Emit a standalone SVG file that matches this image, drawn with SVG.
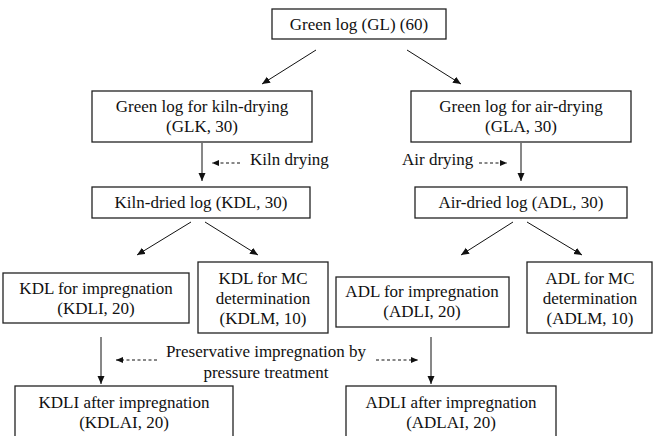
<svg xmlns="http://www.w3.org/2000/svg" width="654" height="436" viewBox="0 0 654 436">
<defs>
<marker id="ah" markerUnits="userSpaceOnUse" markerWidth="9" markerHeight="8" refX="8" refY="3.5" orient="auto">
<path d="M0,0 L8,3.5 L0,7 z" fill="#111"/>
</marker>
<marker id="dh" markerUnits="userSpaceOnUse" markerWidth="8" markerHeight="7" refX="7" refY="3" orient="auto">
<path d="M0,0 L7,3 L0,6 z" fill="#111"/>
</marker>
<style>
rect.box{fill:#fff;stroke:#222;stroke-width:1.3}
text{font-family:Liberation Serif,serif;font-size:17px;fill:#111;text-anchor:middle}
text.l{text-anchor:start}
.c line{stroke:#111;stroke-width:1;marker-end:url(#ah)}
.c line.d{stroke-dasharray:3,2.5;marker-end:url(#dh)}
</style>
</defs>
<rect width="654" height="436" fill="#fff"/>
<g class="c" id="connectors">
<line x1="316" y1="50" x2="262" y2="84"/>
<line x1="407" y1="50" x2="461" y2="84"/>
<line x1="202" y1="143" x2="202" y2="181"/>
<line x1="521" y1="143" x2="521" y2="181"/>
<line class="d" x1="240" y1="163" x2="212" y2="163"/>
<line class="d" x1="479" y1="163" x2="507" y2="163"/>
<line x1="191" y1="222" x2="137" y2="255"/>
<line x1="205" y1="222" x2="258" y2="255"/>
<line x1="513" y1="222" x2="461" y2="255"/>
<line x1="527" y1="222" x2="582" y2="255"/>
<line x1="101" y1="337" x2="101" y2="384"/>
<line x1="431" y1="337" x2="431" y2="384"/>
<line class="d" x1="157" y1="360" x2="116" y2="360"/>
<line class="d" x1="376" y1="360" x2="418" y2="360"/>
</g>
<g id="labels">
<text class="l" x="250" y="165" font-family="Liberation Serif">Kiln drying</text>
<text class="l" x="402" y="165" font-family="Liberation Serif">Air drying</text>
<text x="266" y="357" font-family="Liberation Serif">Preservative impregnation by</text>
<text x="266" y="378" font-family="Liberation Serif">pressure treatment</text>
</g>
<g id="GL"><rect class="box" x="272" y="9" width="174" height="30"/><text x="359" y="30" font-family="Liberation Serif">Green log (GL) (60)</text></g>
<g id="GLK"><rect class="box" x="92" y="91" width="220" height="51"/><text x="202" y="112" font-family="Liberation Serif">Green log for kiln-drying</text><text x="202" y="132" font-family="Liberation Serif">(GLK, 30)</text></g>
<g id="GLA"><rect class="box" x="411" y="91" width="220" height="51"/><text x="521" y="112" font-family="Liberation Serif">Green log for air-drying</text><text x="521" y="132" font-family="Liberation Serif">(GLA, 30)</text></g>
<g id="KDL"><rect class="box" x="92" y="187" width="218" height="31"/><text x="201" y="208" font-family="Liberation Serif">Kiln-dried log (KDL, 30)</text></g>
<g id="ADL"><rect class="box" x="415" y="187" width="212" height="31"/><text x="521" y="208" font-family="Liberation Serif">Air-dried log (ADL, 30)</text></g>
<g id="KDLI"><rect class="box" x="3" y="273" width="186" height="50"/><text x="96" y="294" font-family="Liberation Serif">KDL for impregnation</text><text x="96" y="314" font-family="Liberation Serif">(KDLI, 20)</text></g>
<g id="KDLM"><rect class="box" x="198" y="262" width="130" height="71"/><text x="263" y="284" font-family="Liberation Serif">KDL for MC</text><text x="263" y="304" font-family="Liberation Serif">determination</text><text x="263" y="324" font-family="Liberation Serif">(KDLM, 10)</text></g>
<g id="ADLI"><rect class="box" x="336" y="277" width="173" height="50"/><text x="422" y="297" font-family="Liberation Serif">ADL for impregnation</text><text x="422" y="317" font-family="Liberation Serif">(ADLI, 20)</text></g>
<g id="ADLM"><rect class="box" x="527" y="262" width="125" height="71"/><text x="590" y="284" font-family="Liberation Serif">ADL for MC</text><text x="590" y="304" font-family="Liberation Serif">determination</text><text x="590" y="324" font-family="Liberation Serif">(ADLM, 10)</text></g>
<g id="KDLAI"><rect class="box" x="15" y="386" width="218" height="60"/><text x="124" y="408" font-family="Liberation Serif">KDLI after impregnation</text><text x="124" y="428" font-family="Liberation Serif">(KDLAI, 20)</text></g>
<g id="ADLAI"><rect class="box" x="346" y="386" width="210" height="60"/><text x="451" y="408" font-family="Liberation Serif">ADLI after impregnation</text><text x="451" y="428" font-family="Liberation Serif">(ADLAI, 20)</text></g>
</svg>
